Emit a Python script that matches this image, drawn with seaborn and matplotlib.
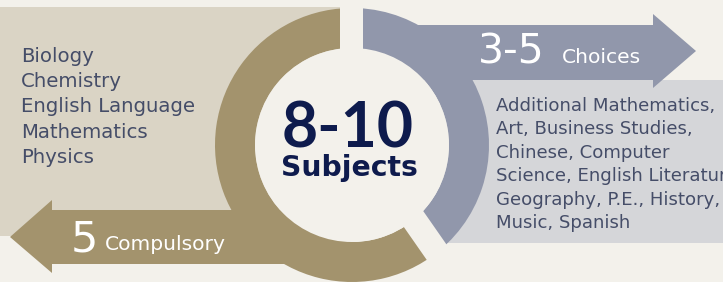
import numpy as np
import seaborn as sns
import matplotlib.pyplot as plt
from matplotlib.patches import Rectangle, Wedge, Circle, Polygon

# data ==================================================================================
total_subjects = "8-10"
total_label = "Subjects"
compulsory_count = "5"
compulsory_label = "Compulsory"
choice_count = "3-5"
choice_label = "Choices"
compulsory_subjects = ["Biology", "Chemistry", "English Language", "Mathematics", "Physics"]
elective_lines = ["Additional Mathematics,", "Art, Business Studies,", "Chinese, Computer",
                  "Science, English Literature,", "Geography, P.E., History,", "Music, Spanish"]

# colours
bg = "#F3F1EB"
beige = "#DAD4C5"
gold = "#A3936D"
slate = "#9197AB"
light = "#D5D6D9"
navy = "#0E1B4D"
list_col = "#454D68"

sns.set_theme(style="white")
plt.rcParams['font.family'] = ['DejaVu Sans']

fig = plt.figure(figsize=(7.23, 2.82), dpi=100, facecolor=bg)
ax = fig.add_axes([0, 0, 1, 1])
ax.set_xlim(0, 723)
ax.set_ylim(282, 0)
ax.set_facecolor(bg)
ax.axis('off')

cx, cy = 352, 145
r_in, r_out = 97, 137

# boxes behind the ring
ax.add_patch(Rectangle((0, 7), 340, 229, color=beige, lw=0, zorder=1))
ax.add_patch(Rectangle((440, 80), 283, 163, color=light, lw=0, zorder=1))

# ring halves
ax.add_patch(Wedge((cx, cy), r_out, 48, 272, width=r_out - r_in, color=gold, lw=0, zorder=2))
ax.add_patch(Wedge((cx, cy), r_out, -92, 55, width=r_out - r_in, color=slate, lw=0, zorder=2))

# arrows
ax.add_patch(Polygon([(cx, 210), (52, 210), (52, 200), (10, 237), (52, 273), (52, 264), (cx, 264)],
                     closed=True, color=gold, lw=0, zorder=3))
ax.add_patch(Polygon([(cx, 25), (653, 25), (653, 14), (696, 51), (653, 88), (653, 80), (cx, 80)],
                     closed=True, color=slate, lw=0, zorder=3))

# gaps between the two halves
ax.add_patch(Rectangle((340, 0), 23, cy, color=bg, lw=0, zorder=4))
d = np.array([0.572, 0.821])
n = np.array([0.821, -0.572])
p0 = np.array([413.5, 219.0])
half = 12.5
pts = [p0 - 40 * d + half * n, p0 + 90 * d + half * n, p0 + 90 * d - half * n, p0 - 40 * d - half * n]
ax.add_patch(Polygon(pts, closed=True, color=bg, lw=0, zorder=4))

# centre disc
ax.add_patch(Circle((cx, cy), r_in, color=bg, lw=0, zorder=5))

# texts
ax.text(282, 147, total_subjects, fontsize=45, fontweight='bold', family=['Lato', 'DejaVu Sans'],
        color=navy, ha='left', va='baseline', zorder=6)
ax.text(281, 176.5, total_label, fontsize=20.3, fontweight='bold', color=navy,
        ha='left', va='baseline', zorder=6)

ax.text(478, 63, choice_count, fontsize=29.5, color='white', ha='left', va='baseline', zorder=6)
ax.text(562, 63, choice_label, fontsize=14.6, color='white', ha='left', va='baseline', zorder=6)

ax.text(71, 251.5, compulsory_count, fontsize=31, color='white', ha='left', va='baseline', zorder=6)
ax.text(105, 250, compulsory_label, fontsize=14.6, color='white', ha='left', va='baseline', zorder=6)

for i, name in enumerate(compulsory_subjects):
    ax.text(21, 61.7 + i * 25.3, name, fontsize=14.2, color=list_col, ha='left', va='baseline', zorder=6)

for i, line in enumerate(elective_lines):
    ax.text(496, 110.7 + i * 23.5, line, fontsize=13.1, color=list_col, ha='left', va='baseline',
            zorder=6, clip_on=True)

fig.savefig("out.png", dpi=100, facecolor=bg)
